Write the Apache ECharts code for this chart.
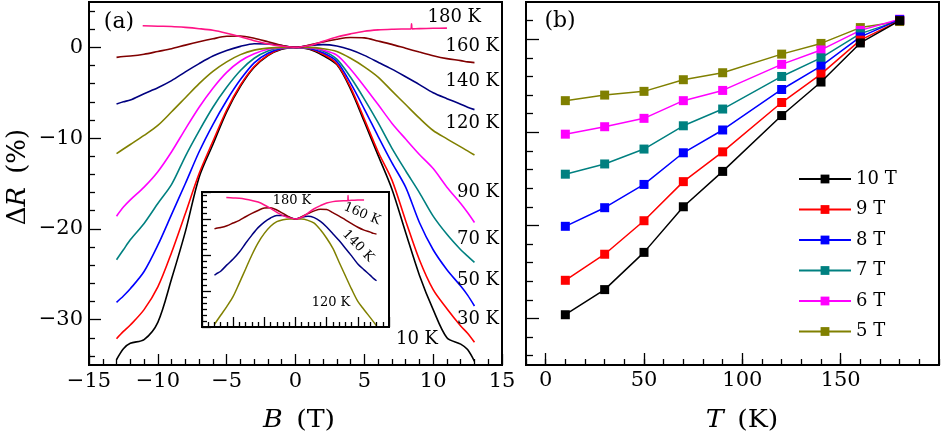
<!DOCTYPE html>
<html><head><meta charset="utf-8">
<script src="https://cdn.jsdelivr.net/npm/echarts@6/dist/echarts.min.js"></script>
<style>html,body{margin:0;padding:0;background:#fff}#c{width:942px;height:438px}</style>
</head><body><div id="c"></div>
<script>
// ---------- panel (a) data: ΔR (%) vs B (T) ----------
const B = [-13,-12.5,-12,-11,-10,-9,-8,-7,-6,-5,-4,-3,-2,-1,0,1,2,3,4,5,6,7,8,9,10,11,12,12.5,13];
const dr10K  = [-34.4,-33.2,-32.6,-32.2,-30.3,-25.5,-20.3,-14.3,-10.7,-7.1,-4.3,-2.2,-0.9,-0.2,0,-0.2,-0.9,-1.9,-4.6,-8.2,-11.9,-15.6,-20.4,-25.1,-28.9,-32.0,-32.7,-33.3,-34.6];
const dr30K  = [-32.1,-31.3,-30.6,-28.9,-26.4,-22.6,-18.3,-13.9,-10.35,-6.9,-4.15,-2.1,-0.85,-0.15,0,-0.15,-0.75,-1.8,-4.4,-7.9,-11.5,-14.6,-19.1,-23.4,-26.7,-28.8,-30.7,-31.5,-32.5];
const dr50K  = [-28.1,-27.4,-26.6,-24.7,-21.8,-18.4,-15.0,-11.5,-8.5,-5.85,-3.55,-1.7,-0.65,-0.12,0,-0.12,-0.6,-1.55,-3.95,-6.8,-9.8,-12.7,-15.4,-19.3,-22.3,-24.5,-26.3,-27.3,-28.5];
const dr70K  = [-23.4,-22.3,-21.2,-19.4,-17.2,-15.1,-12.0,-9.2,-6.6,-4.4,-2.55,-1.2,-0.4,-0.05,0,-0.05,-0.4,-1.3,-3.3,-5.7,-8.3,-11.1,-13.6,-16.0,-18.6,-20.6,-22.3,-23.0,-23.7];
const dr90K  = [-18.6,-17.6,-16.8,-15.4,-13.7,-11.5,-9.0,-6.6,-4.5,-2.75,-1.5,-0.7,-0.2,-0.03,0,-0.03,-0.3,-0.85,-2.4,-4.3,-6.3,-8.35,-10.1,-11.8,-13.35,-15.4,-17.2,-18.2,-19.3];
const dr120K = [-11.7,-11.2,-10.7,-9.7,-8.6,-7.1,-5.55,-4.0,-2.65,-1.6,-0.8,-0.3,-0.08,0,0,0,-0.15,-0.46,-1.2,-2.14,-3.27,-4.8,-6.3,-7.8,-9.16,-10.08,-10.96,-11.4,-11.86];
const dr140K = [-6.25,-6.0,-5.8,-5.1,-4.45,-3.67,-2.7,-1.79,-0.96,-0.34,0.11,0.4,0.38,0.2,0,0.2,0.3,0.15,-0.27,-0.88,-1.63,-2.4,-3.24,-4.1,-5.0,-5.65,-6.26,-6.6,-6.86];
const dr160K = [-1.1,-1.0,-0.95,-0.75,-0.45,-0.15,0.25,0.62,0.95,1.22,1.25,1.0,0.62,0.22,0,0.25,0.6,0.9,1.08,1.05,0.7,0.33,-0.1,-0.52,-0.92,-1.24,-1.46,-1.6,-1.68];
const B180   = [-11.1,-10,-9,-8,-7,-6,-5,-4,-3,-2,-1,0,1,2,3,4,5,6,7,8,8.38,8.43,8.48,9,10,11];
const dr180K = [2.38,2.33,2.3,2.2,2.06,1.88,1.56,1.17,0.73,0.38,0.14,0,0.2,0.66,1.14,1.49,1.78,1.93,2.0,2.03,2.04,2.6,2.04,2.07,2.1,2.12];
const tempLabels = ['10 K','30 K','50 K','70 K','90 K','120 K','140 K','160 K','180 K'];

// ---------- panel (b) data: ΔR (%) vs T (K) ----------
const T = [10,30,50,70,90,120,140,160,180];
const dr10T = [-29.6,-26.9,-22.9,-18.0,-14.2,-8.2,-4.6,-0.4,2.0];
const dr9T  = [-25.9,-23.1,-19.5,-15.3,-12.1,-6.8,-3.75,-0.1,2.0];
const dr8T  = [-20.1,-18.1,-15.6,-12.2,-9.75,-5.4,-2.9,0.25,2.1];
const dr7T  = [-14.5,-13.4,-11.8,-9.3,-7.5,-4.0,-2.0,0.6,2.0];
const dr6T  = [-10.2,-9.4,-8.5,-6.6,-5.5,-2.7,-1.15,0.95,2.15];
const dr5T  = [-6.6,-6.0,-5.6,-4.35,-3.6,-1.6,-0.45,1.25,1.9];
const fieldLabels = ['10 T','9 T','8 T','7 T','6 T','5 T'];

// ---------- tick values ----------
const aXTicks = [-15,-10,-5,0,5,10,15];
const aYMajor = [0,-10,-20,-30];
const aYMinor = [4,2,-2,-4,-6,-8,-12,-14,-16,-18,-22,-24,-26,-28,-32,-34];
const bXMajor = [0,50,100,150];
const bYMajor = [0,-10,-20,-30];
const bYMinor = [2,-2,-4,-6,-8,-12,-14,-16,-18,-22,-24,-26,-28,-32,-34];

const FONT = 'DejaVu Serif';
const fmt = v => v < 0 ? '\u2212' + Math.abs(v) : String(v);
const pairs = (xs, ys) => xs.map((x, i) => [x, ys[i]]);

const colA = ['#000000','#ff0000','#0000ff','#008080','#ff00ff','#808000','#000080','#800000','#ff1486'];
const seriesA = [
  [B, dr10K],[B, dr30K],[B, dr50K],[B, dr70K],[B, dr90K],[B, dr120K],[B, dr140K],[B, dr160K],[B180, dr180K]
];
const colB = ['#000000','#ff0000','#0000ff','#008080','#ff00ff','#808000'];
const seriesBData = [dr10T, dr9T, dr8T, dr7T, dr6T, dr5T];

const tickStyle = {color:'#000', width:1.3};
const noLine = {show:false, onZero:false};
const series = [];
seriesA.forEach((s, i) => {
  series.push({type:'line', xAxisIndex:0, yAxisIndex:0, data:pairs(s[0], s[1]), symbol:'none',
    smooth:0.3, lineStyle:{color:colA[i], width:1.6}, z:2, silent:true});
});
[5,6,7,8].forEach(i => {
  series.push({type:'line', xAxisIndex:3, yAxisIndex:4, data:pairs(seriesA[i][0], seriesA[i][1]), symbol:'none',
    smooth:0.3, lineStyle:{color:colA[i], width:1.5}, z:12, silent:true});
});
seriesBData.forEach((d, i) => {
  series.push({type:'line', name:fieldLabels[i], xAxisIndex:1, yAxisIndex:2, data:pairs(T, d),
    symbol:'rect', symbolSize:9, lineStyle:{color:colB[i], width:1.5}, itemStyle:{color:colB[i]},
    z:3 + (6 - i) * 0.01, silent:true});
});

const graphics = [];
const tPos = [[438,339.5],[499,319.5],[499,280],[499,239.5],[499,192],[499,123],[499,81],[499,46],[481,17]];
tempLabels.forEach((t, i) => {
  graphics.push({type:'text', x:tPos[i][0], y:tPos[i][1], z:20,
    style:{text:t, font:'18px "DejaVu Serif"', fill:'#000', textAlign:'right', textVerticalAlign:'middle'}});
});
// inset labels
const insetLab = [[tempLabels[8], 292, 200.5, 0],[tempLabels[7], 362, 214, -0.40],[tempLabels[6], 358, 246, -0.80],[tempLabels[5], 331, 303, 0]];
insetLab.forEach(l => {
  graphics.push({type:'text', x:l[1], y:l[2], rotation:l[3], z:20,
    style:{text:l[0], font:'13px "DejaVu Serif"', fill:'#000', textAlign:'center', textVerticalAlign:'middle'}});
});
const richT = {
  n:{fontFamily:FONT, fontSize:24, color:'#000'},
  i:{fontFamily:FONT, fontSize:24, fontStyle:'italic', color:'#000'}
};
const richY = {
  n:{fontFamily:FONT, fontSize:26, color:'#000'},
  i:{fontFamily:FONT, fontSize:26, fontStyle:'italic', color:'#000'}
};
graphics.push({type:'text', x:119, y:22, z:20, style:{text:'(a)', font:'22px "DejaVu Serif"', fill:'#000', textAlign:'center', textVerticalAlign:'middle'}});
graphics.push({type:'text', x:560, y:21, z:20, style:{text:'(b)', font:'22px "DejaVu Serif"', fill:'#000', textAlign:'center', textVerticalAlign:'middle'}});
graphics.push({type:'text', x:299, y:421, scaleX:1.12, z:20, style:{text:'{i|B}{n|\u2002(T)}', rich:richT, textAlign:'center', textVerticalAlign:'middle'}});
graphics.push({type:'text', x:742, y:421, scaleX:1.12, z:20, style:{text:'{i|T}{n|\u2002(K)}', rich:richT, textAlign:'center', textVerticalAlign:'middle'}});
graphics.push({type:'text', x:18, y:177, rotation:Math.PI/2, z:20, style:{text:'{n|\u0394}{i|R}{n|\u2002(%)}', rich:richY, textAlign:'center', textVerticalAlign:'middle'}});

const lab = {fontFamily:FONT, fontSize:21, color:'#000'};
const option = {
  animation:false,
  backgroundColor:'#ffffff',
  grid:[
    {left:89, top:2, width:413, height:363, show:true, borderColor:'#000', borderWidth:2, backgroundColor:'transparent', containLabel:false, outerBoundsMode:'none'},
    {left:526, top:2, width:413, height:363, show:true, borderColor:'#000', borderWidth:2, backgroundColor:'transparent', containLabel:false, outerBoundsMode:'none'},
    {left:202, top:192, width:187, height:135, show:true, borderColor:'#000', borderWidth:2, backgroundColor:'#ffffff', z:10, containLabel:false, outerBoundsMode:'none'}
  ],
  xAxis:[
    {gridIndex:0, type:'value', position:'bottom', min:-15, max:15, interval:5,
      axisLine:noLine, splitLine:{show:false},
      axisTick:{inside:true, length:11, lineStyle:tickStyle},
      minorTick:{show:true, splitNumber:5, length:6, lineStyle:tickStyle},
      axisLabel:Object.assign({margin:6, formatter:fmt, customValues:aXTicks}, lab)},
    {gridIndex:1, type:'value', position:'bottom', min:-10, max:200, interval:10,
      axisLine:noLine, splitLine:{show:false},
      axisTick:{inside:true, length:6, lineStyle:tickStyle}, axisLabel:{show:false}},
    {gridIndex:1, type:'value', position:'bottom', min:-10, max:200,
      axisLine:noLine, splitLine:{show:false},
      axisTick:{inside:true, length:12, lineStyle:tickStyle, customValues:bXMajor},
      axisLabel:Object.assign({margin:5, customValues:bXMajor, formatter:fmt}, lab)},
    {gridIndex:2, type:'value', position:'bottom', min:-15, max:15, interval:5, z:13,
      axisLine:noLine, splitLine:{show:false},
      axisTick:{inside:true, length:10, lineStyle:tickStyle},
      minorTick:{show:true, splitNumber:5, length:5, lineStyle:tickStyle},
      axisLabel:{show:false}}
  ],
  yAxis:[
    {gridIndex:0, type:'value', position:'left', min:-35, max:5,
      axisLine:noLine, splitLine:{show:false},
      axisTick:{inside:true, length:12, lineStyle:tickStyle, customValues:aYMajor},
      axisLabel:Object.assign({margin:6, customValues:aYMajor, formatter:fmt}, lab)},
    {gridIndex:0, type:'value', position:'left', min:-35, max:5,
      axisLine:noLine, splitLine:{show:false},
      axisTick:{inside:true, length:6, lineStyle:tickStyle, customValues:aYMinor},
      axisLabel:{show:false}},
    {gridIndex:1, type:'value', position:'left', min:-35, max:4,
      axisLine:noLine, splitLine:{show:false},
      axisTick:{inside:true, length:13, lineStyle:tickStyle, customValues:bYMajor},
      axisLabel:{show:false}},
    {gridIndex:1, type:'value', position:'left', min:-35, max:4,
      axisLine:noLine, splitLine:{show:false},
      axisTick:{inside:true, length:7, lineStyle:tickStyle, customValues:bYMinor},
      axisLabel:{show:false}},
    {gridIndex:2, type:'value', position:'left', min:-12, max:3, interval:4, z:13,
      axisLine:noLine, splitLine:{show:false},
      axisTick:{inside:true, length:9, lineStyle:tickStyle},
      minorTick:{show:true, splitNumber:6, length:5, lineStyle:tickStyle},
      axisLabel:{show:false}}
  ],
  legend:{
    data:fieldLabels, orient:'vertical', left:793, top:164, itemWidth:52, itemHeight:11, itemGap:10.5,
    selectedMode:false, padding:5,
    textStyle:{fontFamily:FONT, fontSize:18, color:'#000', lineHeight:20}
  },
  series:series,
  graphic:graphics
};
const chart = echarts.init(document.getElementById('c'));
chart.setOption(option);
</script>
</body></html>
